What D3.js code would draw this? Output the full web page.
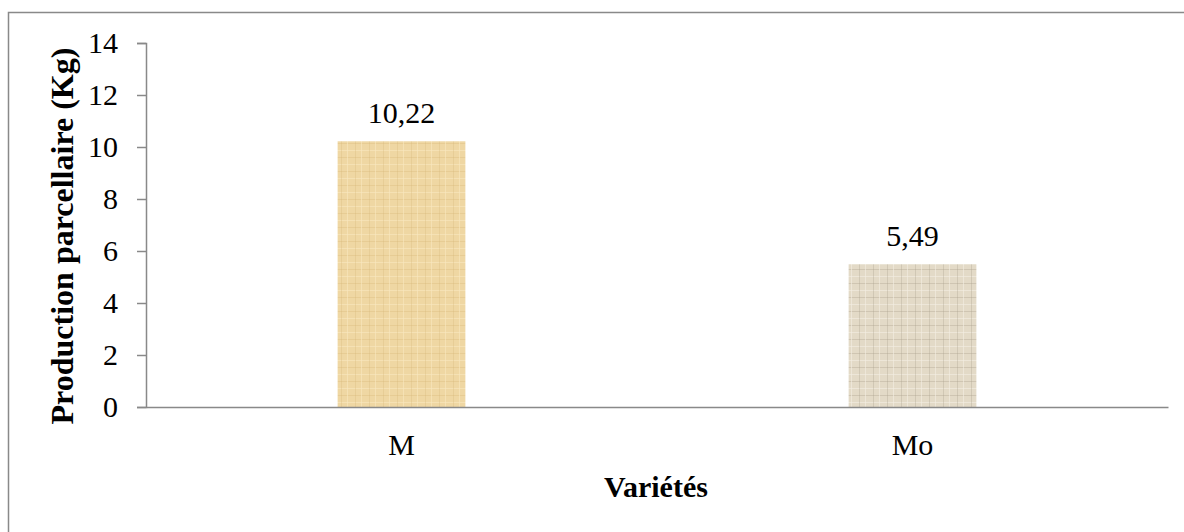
<!DOCTYPE html>
<html>
<head>
<meta charset="utf-8">
<script src="https://cdn.jsdelivr.net/npm/d3@7"></script>
<style>
  body { margin: 0; background: #fff; }
  text { font-family: "Liberation Serif", "Times New Roman", serif; fill: #000; }
</style>
</head>
<body>
<svg id="chart" width="1184" height="532"></svg>
<script>
// data
const categories = ["M", "Mo"];
const values = [10.22, 5.49];
const valueLabels = ["10,22", "5,49"];
const yTicks = [0, 2, 4, 6, 8, 10, 12, 14];

const svg = d3.select("#chart");
const margin = { left: 146, right: 16, top: 43, bottom: 125 };
const width = 1184, height = 532;

// outer frame (cut off at the right and bottom edges)
svg.append("rect")
  .attr("x", 8.5).attr("y", 12.5)
  .attr("width", 1190).attr("height", 540)
  .attr("fill", "none").attr("stroke", "#898989").attr("stroke-width", 1.5);

// bar textures
const defs = svg.append("defs");
function weave(id, base, lineCol, alt) {
  const p = defs.append("pattern").attr("id", id)
    .attr("patternUnits", "userSpaceOnUse").attr("width", 14).attr("height", 14);
  p.append("rect").attr("width", 14).attr("height", 14).attr("fill", base);
  p.append("rect").attr("x", 0).attr("y", 3).attr("width", 14).attr("height", 1).attr("fill", lineCol).attr("opacity", 0.35);
  p.append("rect").attr("x", 0).attr("y", 10).attr("width", 14).attr("height", 1).attr("fill", alt).attr("opacity", 0.6);
  p.append("rect").attr("x", 5).attr("y", 0).attr("width", 1).attr("height", 14).attr("fill", lineCol).attr("opacity", 0.3);
  p.append("rect").attr("x", 11).attr("y", 0).attr("width", 1).attr("height", 14).attr("fill", alt).attr("opacity", 0.6);
}
weave("texM", "#efd7a3", "#d6b677", "#f8e7c0");
weave("texMo", "#e3dac7", "#a89d88", "#f4efe3");

const x = d3.scaleBand()
  .domain(categories)
  .range([margin.left, width - margin.right]);

const y = d3.scaleLinear()
  .domain([0, 14])
  .range([height - margin.bottom, margin.top]);

// y axis
const yAxis = svg.append("g")
  .attr("transform", `translate(${margin.left},0)`)
  .call(d3.axisLeft(y).tickValues(yTicks).tickSize(9).tickPadding(19).tickFormat(d3.format("d")));
yAxis.select(".domain").attr("stroke", "#898989").attr("stroke-width", 1.5);
yAxis.selectAll(".tick line").attr("stroke", "#898989").attr("stroke-width", 1.5);
yAxis.selectAll(".tick text")
  .style("font-family", "'Liberation Serif', serif")
  .style("font-size", "30px").attr("fill", "#000");

// bars
const barW = x.bandwidth() * 0.25;
svg.selectAll(".bar")
  .data(values)
  .enter().append("rect")
  .attr("class", "bar")
  .attr("x", (d, i) => x(categories[i]) + x.bandwidth() / 2 - barW / 2)
  .attr("y", d => y(d))
  .attr("width", barW)
  .attr("height", d => y(0) - y(d))
  .attr("fill", (d, i) => i === 0 ? "url(#texM)" : "url(#texMo)");

// x axis
const xAxis = svg.append("g")
  .attr("transform", `translate(0,${y(0)})`)
  .call(d3.axisBottom(x).tickSize(0));
xAxis.select(".domain").attr("stroke", "#898989").attr("stroke-width", 1.5);
xAxis.selectAll(".tick text")
  .attr("y", 48).attr("dy", 0)
  .style("font-family", "'Liberation Serif', serif")
  .style("font-size", "30px").attr("fill", "#000");

// value labels
svg.selectAll(".vlabel")
  .data(values)
  .enter().append("text")
  .attr("class", "vlabel")
  .attr("x", (d, i) => x(categories[i]) + x.bandwidth() / 2)
  .attr("y", d => y(d) - 18)
  .attr("text-anchor", "middle")
  .style("font-size", "30px")
  .text((d, i) => valueLabels[i]);

// axis titles
svg.append("text")
  .attr("x", 656).attr("y", 497)
  .attr("text-anchor", "middle")
  .style("font-size", "30px").style("font-weight", "bold")
  .text("Variétés");

svg.append("text")
  .attr("transform", "translate(73,236) rotate(-90)")
  .attr("text-anchor", "middle")
  .style("font-size", "32px").style("font-weight", "bold")
  .text("Production parcellaire (Kg)");
</script>
</body>
</html>
